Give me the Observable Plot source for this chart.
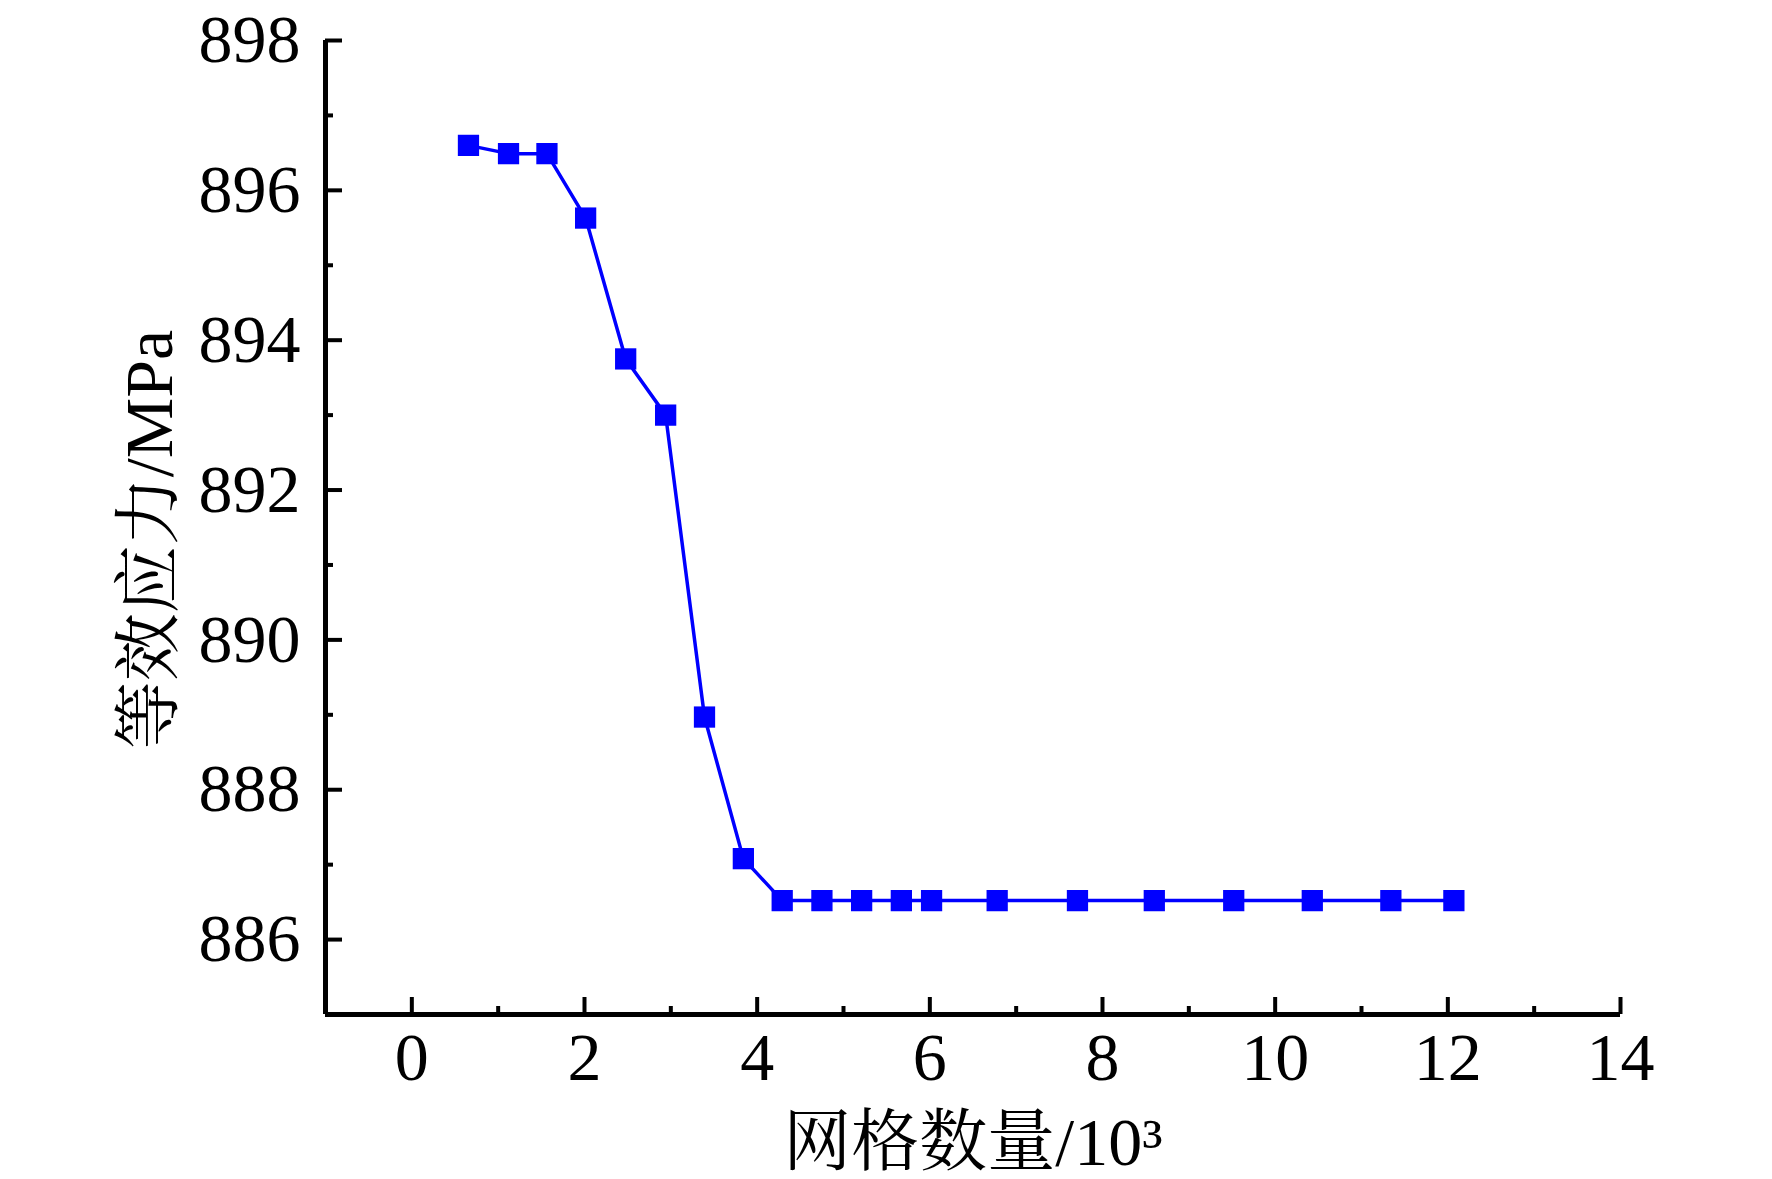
<!DOCTYPE html>
<html><head><meta charset="utf-8">
<script src="https://cdn.jsdelivr.net/npm/d3@7"></script>
<script src="https://cdn.jsdelivr.net/npm/@observablehq/plot@0.6"></script>
<style>html,body{margin:0;padding:0;background:#fff;}</style>
</head><body><div id="chart"></div>
<script>
const meshCount = [0.656, 1.12, 1.565, 2.013, 2.477, 2.94, 3.39, 3.84, 4.29, 4.75, 5.21, 5.67, 6.02, 6.78, 7.71, 8.60, 9.52, 10.43, 11.34, 12.07];
const stress = [896.6, 896.49, 896.49, 895.63, 893.75, 893.0, 888.97, 887.08, 886.52, 886.52, 886.52, 886.52, 886.52, 886.52, 886.52, 886.52, 886.52, 886.52, 886.52, 886.52];
const xMajorTicks = [0, 2, 4, 6, 8, 10, 12, 14];
const xMinorTicks = [1, 3, 5, 7, 9, 11, 13];
const yMajorTicks = [886, 888, 890, 892, 894, 896, 898];
const yMinorTicks = [887, 889, 891, 893, 895, 897];
const xTitle = "网格数量/10³";
const yTitle = "等效应力/MPa";

const data = meshCount.map((x, i) => ({x, y: stress[i]}));
const fontStack = '"Liberation Serif","Times New Roman","Noto Serif CJK SC","Noto Sans CJK SC",serif';

const chart = Plot.plot({
  width: 1772, height: 1179,
  marginLeft: 325, marginRight: 152, marginTop: 40, marginBottom: 165,
  style: {fontFamily: fontStack, fontSize: "68px", color: "#000", background: "#fff", overflow: "visible"},
  x: {domain: [-1, 14]},
  y: {domain: [885, 898]},
  marks: [
    Plot.axisX(xMajorTicks, {tickSize: -17, tickPadding: 34, strokeWidth: 4, label: null, fontSize: 68, tickFormat: d => String(d)}),
    Plot.axisX(xMinorTicks, {tickSize: -8, tickFormat: () => "", strokeWidth: 4, label: null}),
    Plot.axisY(yMajorTicks, {tickSize: -17, tickPadding: 42, strokeWidth: 4, label: null, fontSize: 68, tickFormat: d => String(d)}),
    Plot.axisY(yMinorTicks, {tickSize: -8, tickFormat: () => "", strokeWidth: 4, label: null}),
    Plot.ruleY([885], {strokeWidth: 5}),
    Plot.ruleX([-1], {strokeWidth: 5}),
    Plot.line(data, {x: "x", y: "y", stroke: "#0000ff", strokeWidth: 3.5}),
    Plot.dot(data, {x: "x", y: "y", symbol: "square", r: 12, fill: "#0000ff", stroke: null}),
    Plot.text([xTitle], {text: d => d, frameAnchor: "bottom", dy: 150, lineAnchor: "bottom", textAnchor: "middle", fontSize: 68}),
    Plot.text([yTitle], {text: d => d, frameAnchor: "left", dx: -175, dy: 12, rotate: -90, textAnchor: "middle", fontSize: 68})
  ]
});
document.getElementById("chart").appendChild(chart);
</script>
</body></html>
